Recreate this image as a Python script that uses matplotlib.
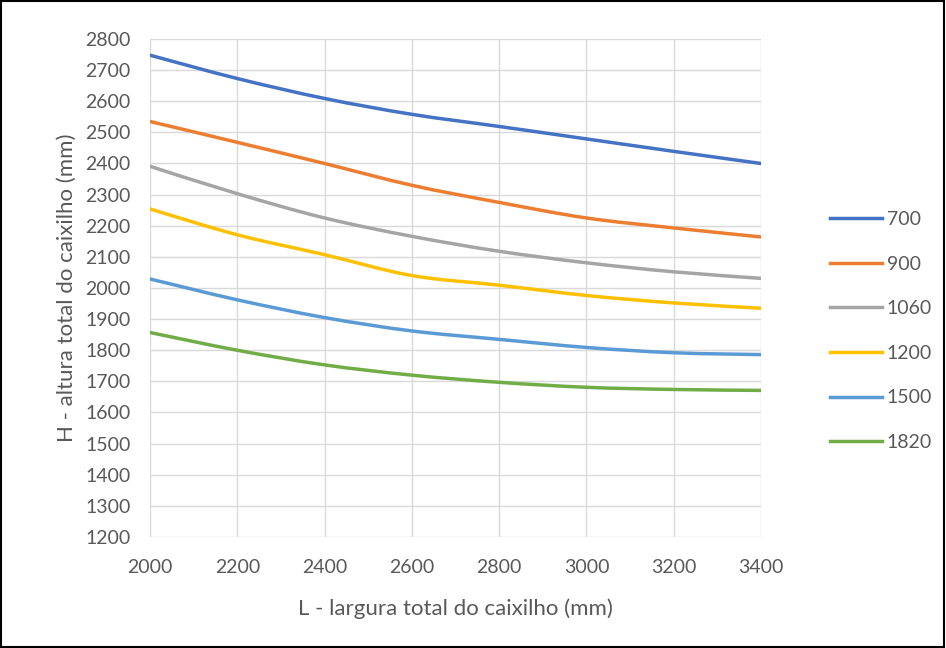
import matplotlib.pyplot as plt
from matplotlib.path import Path
from matplotlib.patches import PathPatch, Rectangle
from matplotlib.lines import Line2D

# dados
L = [2000, 2200, 2400, 2600, 2800, 3000, 3200, 3400]
series = ["700", "900", "1060", "1200", "1500", "1820"]
H_700 = [2748, 2673, 2609, 2558, 2519, 2479, 2439, 2400]
H_900 = [2535, 2468, 2400, 2330, 2275, 2225, 2193, 2164]
H_1060 = [2391, 2303, 2225, 2166, 2118, 2081, 2052, 2031]
H_1200 = [2254, 2171, 2107, 2040, 2009, 1976, 1952, 1935]
H_1500 = [2029, 1962, 1905, 1862, 1835, 1809, 1792, 1786]
H_1820 = [1857, 1800, 1753, 1720, 1697, 1681, 1674, 1671]
colors = ["#4472C4", "#ED7D31", "#A5A5A5", "#FFC000", "#5B9BD5", "#70AD47"]

plt.rcParams['font.family'] = ['Lato', 'DejaVu Sans']
txt = "#595959"


def smooth_path(x, y, k=1 / 6):
    # curva suave tipo Excel (Bezier cúbica com tangentes Catmull-Rom)
    n = len(x)
    verts = [(x[0], y[0])]
    codes = [Path.MOVETO]
    for i in range(n - 1):
        x0, y0 = (x[i - 1], y[i - 1]) if i > 0 else (x[i], y[i])
        x3, y3 = (x[i + 2], y[i + 2]) if i + 2 < n else (x[i + 1], y[i + 1])
        c1 = (x[i] + (x[i + 1] - x0) * k, y[i] + (y[i + 1] - y0) * k)
        c2 = (x[i + 1] - (x3 - x[i]) * k, y[i + 1] - (y3 - y[i]) * k)
        verts += [c1, c2, (x[i + 1], y[i + 1])]
        codes += [Path.CURVE4] * 3
    return Path(verts, codes)


fig = plt.figure(figsize=(9.46, 6.48), dpi=100)
ax = fig.add_axes([150 / 946, 1 - 537 / 648, 611 / 946, 498 / 648])

for name, vals, c in zip(series, [H_700, H_900, H_1060, H_1200, H_1500, H_1820], colors):
    ax.add_patch(PathPatch(smooth_path(L, vals), facecolor='none', edgecolor=c,
                           lw=2.5, capstyle='round', transform=ax.transData))

ax.set_xlim(2000, 3400)
ax.set_ylim(1200, 2800)
ax.set_xticks(range(2000, 3401, 200))
ax.set_yticks(range(1200, 2801, 100))
ax.grid(True, color="#d9d9d9", lw=1)
ax.set_axisbelow(True)
for s in ax.spines.values():
    s.set_visible(False)
ax.tick_params(length=0, labelsize=14, labelcolor=txt)
ax.tick_params(axis='x', pad=16)
ax.tick_params(axis='y', pad=14)
ax.set_xlabel("L - largura total do caixilho (mm)", fontsize=16, color=txt, labelpad=16)
ax.set_ylabel("H - altura total do caixilho (mm)", fontsize=16, color=txt, labelpad=6)

handles = [Line2D([], [], color=c, lw=2.5) for c in colors]
fig.legend(handles, series, loc='center left', bbox_to_anchor=(812 / 946, 1 - 331 / 648),
           frameon=False, fontsize=14, labelcolor=txt, handlelength=2.7,
           handletextpad=0.25, labelspacing=1.42)

fig.patches.append(Rectangle((0.001, 0.001), 0.997, 0.997, transform=fig.transFigure,
                             fill=False, edgecolor='black', lw=1.5))

fig.savefig("out.png", dpi=100)
